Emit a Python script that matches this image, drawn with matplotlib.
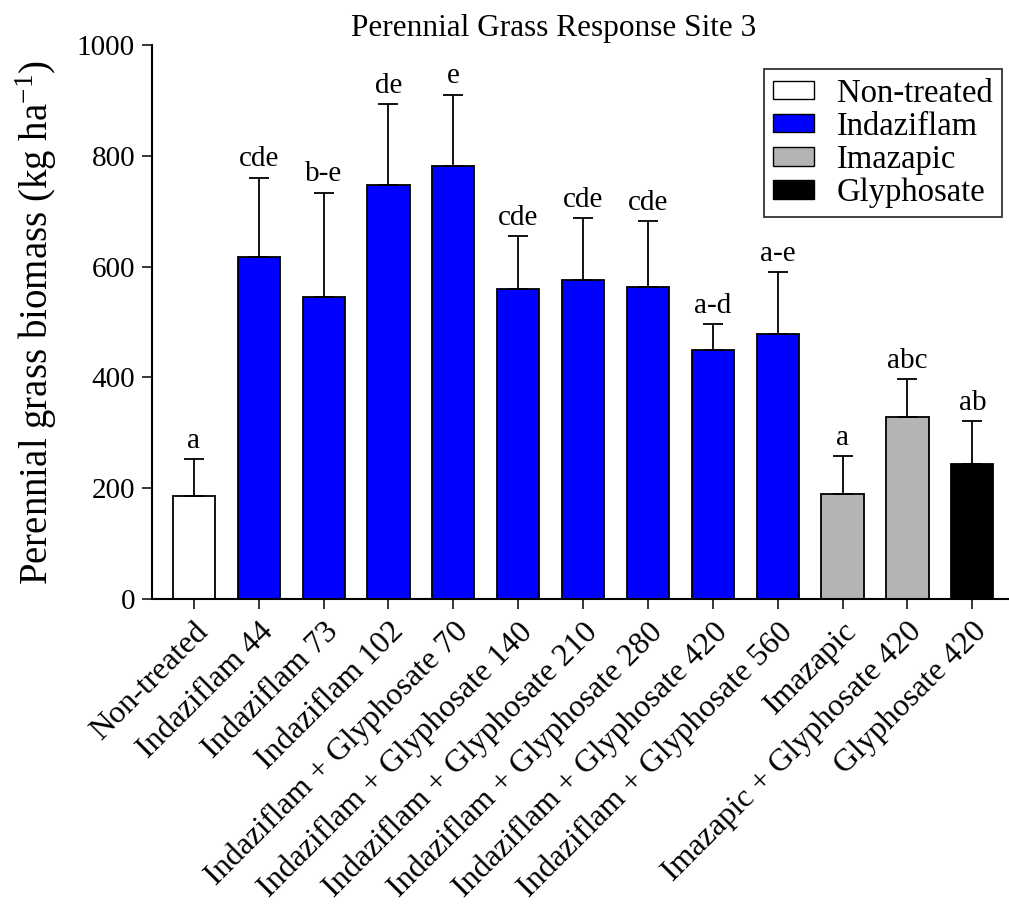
import matplotlib
matplotlib.use("Agg")
import matplotlib.pyplot as plt
from matplotlib.patches import Patch
from matplotlib.transforms import ScaledTranslation

plt.rcParams['font.family'] = ['Liberation Serif', 'DejaVu Serif']
plt.rcParams['mathtext.fontset'] = 'custom'
plt.rcParams['mathtext.rm'] = 'Liberation Serif'

categories = ["Non-treated", "Indaziflam 44", "Indaziflam 73", "Indaziflam 102",
              "Indaziflam + Glyphosate 70", "Indaziflam + Glyphosate 140",
              "Indaziflam + Glyphosate 210", "Indaziflam + Glyphosate 280",
              "Indaziflam + Glyphosate 420", "Indaziflam + Glyphosate 560",
              "Imazapic", "Imazapic + Glyphosate 420", "Glyphosate 420"]
means = [186, 618, 546, 747, 782, 560, 575, 563, 449, 478, 190, 329, 244]
upper = [252, 760, 733, 893, 910, 655, 687, 682, 496, 590, 258, 397, 321]
letters = ["a", "cde", "b-e", "de", "e", "cde", "cde", "cde", "a-d", "a-e", "a", "abc", "ab"]
groups = ["Non-treated", "Indaziflam", "Indaziflam", "Indaziflam", "Indaziflam",
          "Indaziflam", "Indaziflam", "Indaziflam", "Indaziflam", "Indaziflam",
          "Imazapic", "Imazapic", "Glyphosate"]
group_names = ["Non-treated", "Indaziflam", "Imazapic", "Glyphosate"]
group_colors = {"Non-treated": "#FFFFFF", "Indaziflam": "#0000FF",
                "Imazapic": "#B4B4B4", "Glyphosate": "#000000"}

W, H = 1009, 905
fig = plt.figure(figsize=(W / 100, H / 100), dpi=100)
ax = fig.add_axes([151.7 / W, 1 - 599 / H, (1008 - 151.7) / W, (599 - 45) / H])

x = list(range(len(categories)))
colors = [group_colors[g] for g in groups]
errs = [u - m for u, m in zip(upper, means)]
ax.bar(x, means, width=0.65, color=colors, edgecolor='black', linewidth=1.3, zorder=2)
ax.errorbar(x, means, yerr=[[0] * len(errs), errs], fmt='none', ecolor='black',
            elinewidth=1.3, capsize=7.2, capthick=1.3, zorder=3)
for xi, u, lab in zip(x, upper, letters):
    ax.annotate(lab, (xi, u), xytext=(0, 4), textcoords='offset points',
                ha='center', va='bottom', fontsize=21)

ax.set_xlim(-0.65, 12.55)
ax.set_ylim(0, 1000)
ax.set_yticks([0, 200, 400, 600, 800, 1000])
ax.set_xticks(x)
ax.set_xticklabels(categories, rotation=45, ha='right', va='top',
                   rotation_mode='anchor', fontsize=23)
shift = ScaledTranslation(-0.08, -0.08, fig.dpi_scale_trans)
for lbl in ax.get_xticklabels():
    lbl.set_transform(lbl.get_transform() + shift)
ax.tick_params(axis='y', labelsize=21, length=7, width=1.1, pad=5)
ax.tick_params(axis='x', length=7, width=1.1, pad=6)
for s in ['top', 'right']:
    ax.spines[s].set_visible(False)
for s in ['left', 'bottom']:
    ax.spines[s].set_linewidth(1.5)

ax.set_ylabel(r"Perennial grass biomass (kg ha$^{\mathregular{-1}}$)", fontsize=28)
ax.yaxis.set_label_coords(-0.108, 0.5)

fig.text(554 / W, 1 - 36 / H, "Perennial Grass Response Site 3", ha='center',
         va='baseline', fontsize=22.5)

handles = [Patch(facecolor=group_colors[g], edgecolor='black', linewidth=1.0) for g in group_names]
leg = ax.legend(handles, group_names, loc='upper right',
                bbox_to_anchor=(1001.7 / W, 1 - 69 / H), bbox_transform=fig.transFigure,
                borderaxespad=0, fontsize=23.5, handlelength=1.25, handleheight=0.5,
                handletextpad=0.7, labelspacing=0.08, borderpad=0.28,
                fancybox=False, frameon=True)
leg.get_frame().set_edgecolor('black')
leg.get_frame().set_linewidth(1.3)

fig.savefig("out.png", dpi=100)
